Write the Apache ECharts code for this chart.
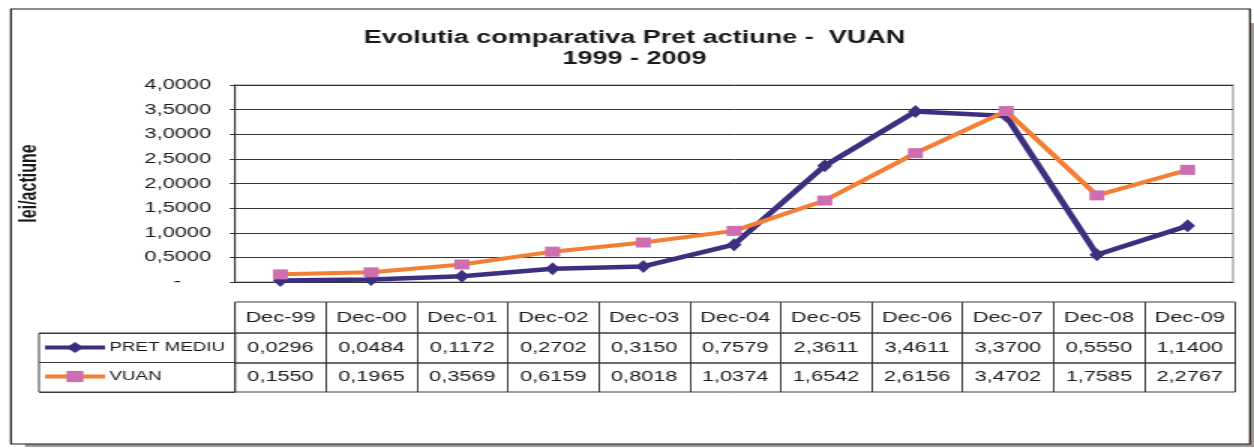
<!DOCTYPE html>
<html>
<head>
<meta charset="utf-8">
<script src="https://cdn.jsdelivr.net/npm/echarts@6/dist/echarts.min.js"></script>
<style>
html,body{margin:0;padding:0;width:1254px;height:448px;overflow:hidden;background:#fff;}
#c{width:836px;height:448px;transform:scaleX(1.5);transform-origin:0 0;}
</style>
</head>
<body>
<div id="c"></div>
<script>
// ---- data ----
var categories = ['Dec-99','Dec-00','Dec-01','Dec-02','Dec-03','Dec-04','Dec-05','Dec-06','Dec-07','Dec-08','Dec-09'];
var pretMediu = [0.0296,0.0484,0.1172,0.2702,0.3150,0.7579,2.3611,3.4611,3.3700,0.5550,1.1400];
var vuan = [0.1550,0.1965,0.3569,0.6159,0.8018,1.0374,1.6542,2.6156,3.4702,1.7585,2.2767];
var seriesNames = ['PRET MEDIU','VUAN'];
var titleText = 'Evolutia comparativa Pret actiune -  VUAN\n1999 - 2009';
var yAxisName = 'lei/actiune';

function fmt(v){ return v.toFixed(4).replace('.', ','); }

var FONT = 'Liberation Sans, Arial, sans-serif';
var PURPLE = '#3d2f80', ORANGE = '#f47f34', PINK = '#cf6db1';
var GL = 156.7, GR = 12.5;

var chart = echarts.init(document.getElementById('c'));

function tableRow(idx, top, height, labels){
  return {
    grid: {left: GL, right: GR, top: top, height: height, show: true, borderColor: '#3a3a3a', borderWidth: 1, backgroundColor: 'transparent'},
    xAxis: {gridIndex: idx, type: 'category', data: labels, boundaryGap: true, position: 'bottom',
      axisLine: {show: false}, axisTick: {show: false},
      splitLine: {show: true, interval: 0, lineStyle: {color: '#3a3a3a', width: 1}},
      axisLabel: {show: true, inside: true, interval: 0, margin: 8, color: '#1a1a1a', fontFamily: FONT, fontSize: 14.5}},
    yAxis: {gridIndex: idx, type: 'value', show: false}
  };
}

var rows = [
  tableRow(1, 302, 31, categories),
  tableRow(2, 333, 30, pretMediu.map(fmt)),
  tableRow(3, 363, 29, vuan.map(fmt))
];

var grids = [{left: GL, right: GR + 1.5, top: 85, bottom: 166, show: true, borderColor: '#b3aaa8', borderWidth: 1.5}];
var xAxes = [{gridIndex: 0, type: 'category', data: categories, boundaryGap: true,
  axisLine: {show: true, lineStyle: {color: '#333', width: 1}}, axisTick: {show: false}, axisLabel: {show: false}, splitLine: {show: false}}];
var yAxes = [{gridIndex: 0, type: 'value', min: 0, max: 4, interval: 0.5,
  name: yAxisName, nameLocation: 'middle', nameGap: 129, nameRotate: 90,
  nameTextStyle: {fontFamily: FONT, fontWeight: 'bold', fontSize: 16, color: '#1a1a1a'},
  axisLine: {show: true, lineStyle: {color: '#333', width: 1}},
  axisTick: {show: true, length: 3.5, lineStyle: {color: '#333'}},
  axisLabel: {margin: 16, color: '#1a1a1a', fontFamily: FONT, fontSize: 14.5,
    formatter: function(v){ return v === 0 ? '-     ' : fmt(v); }},
  splitLine: {show: true, lineStyle: {color: '#333', width: 1}}}];
rows.forEach(function(r){ grids.push(r.grid); xAxes.push(r.xAxis); yAxes.push(r.yAxis); });
// legend block grid (left column of the table)
grids.push({left: 26, width: GL - 26, top: 333, height: 59, show: true, borderColor: '#3a3a3a', borderWidth: 1});
xAxes.push({gridIndex: 4, type: 'value', show: false});
yAxes.push({gridIndex: 4, type: 'category', data: ['a','b'], show: true, axisLine: {show: false}, axisTick: {show: false}, axisLabel: {show: false},
  splitLine: {show: true, interval: 0, lineStyle: {color: '#3a3a3a', width: 1}}});

chart.setOption({
  animation: false,
  backgroundColor: '#fff',
  graphic: [
    {type: 'rect', shape: {x: 16.7, y: 23, width: 819.3, height: 424}, style: {fill: '#a09894'}, z: -10, silent: true},
    {type: 'rect', shape: {x: 7.3, y: 9, width: 826, height: 435}, style: {fill: '#fff', stroke: '#1a1a1a', lineWidth: 1.2}, z: -9, silent: true}
  ],
  title: {text: titleText, left: 423, top: 28, textAlign: 'center', padding: 0,
    textStyle: {fontFamily: FONT, fontWeight: 'bold', fontSize: 18, lineHeight: 21, color: '#1a1a1a'}},
  legend: {orient: 'vertical', left: 28, top: 341, padding: 0, itemGap: 16, itemWidth: 40, itemHeight: 14,
    lineStyle: {width: 4},
    data: seriesNames, textStyle: {fontFamily: FONT, fontSize: 12.5, color: '#1a1a1a', padding: [0, 0, 0, -2]}},
  grid: grids,
  xAxis: xAxes,
  yAxis: yAxes,
  series: [
    {name: seriesNames[0], type: 'line', xAxisIndex: 0, yAxisIndex: 0, data: pretMediu,
      symbol: 'diamond', symbolSize: [10, 13],
      lineStyle: {color: PURPLE, width: 4.5}, itemStyle: {color: PURPLE}, z: 3},
    {name: seriesNames[1], type: 'line', xAxisIndex: 0, yAxisIndex: 0, data: vuan,
      symbol: 'rect', symbolSize: [10, 10],
      lineStyle: {color: ORANGE, width: 4}, itemStyle: {color: PINK}, z: 4}
  ]
});
</script>
</body>
</html>
